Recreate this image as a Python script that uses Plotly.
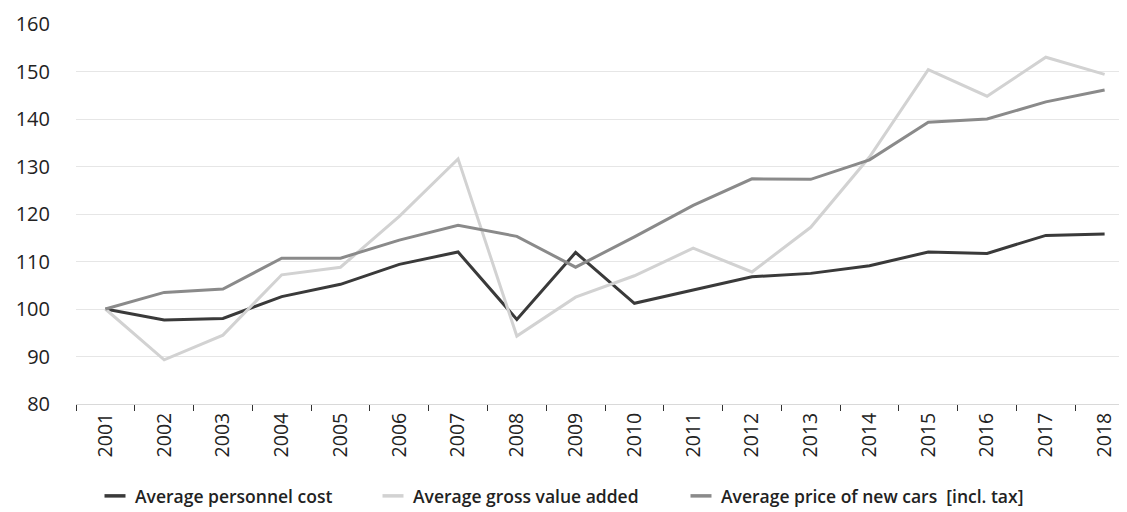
import plotly.graph_objects as go

years = [str(y) for y in range(2001, 2019)]
personnel_cost = [100, 97.7, 98.0, 102.6, 105.2, 109.4, 112.0, 97.8, 111.9, 101.2,
                  104.0, 106.8, 107.5, 109.1, 112.0, 111.7, 115.5, 115.8]
gross_value_added = [100, 89.3, 94.5, 107.2, 108.8, 119.5, 131.6, 94.3, 102.5, 107.0,
                     112.8, 107.8, 117.2, 132.0, 150.4, 144.8, 153.0, 149.4]
car_price = [100, 103.5, 104.2, 110.7, 110.7, 114.5, 117.6, 115.3, 108.8, 115.2,
             121.8, 127.4, 127.3, 131.4, 139.3, 140.0, 143.6, 146.1]

series = [
    ("Average personnel cost", personnel_cost, "#3a3a3a", "legend"),
    ("Average gross value added", gross_value_added, "#d2d2d2", "legend2"),
    ("Average price of new cars  [incl. tax]", car_price, "#8a8a8a", "legend3"),
]
legend_text_x = [129, 407, 715]  # px where each legend label starts

fig = go.Figure()
for name, vals, color, lg in series:
    fig.add_trace(go.Scatter(x=years, y=vals, name=name, mode="lines",
                             line=dict(color=color, width=3), showlegend=False))
    # legend-only entry with a short dash symbol
    fig.add_trace(go.Scatter(x=[None], y=[None], name=name, mode="markers",
                             marker=dict(symbol="line-ew", size=15,
                                         line=dict(color=color, width=3.5)),
                             legend=lg, showlegend=True))

legend_font = dict(family="Open Sans, sans-serif", size=17.5, weight=600, color="#222222")
W, H = 1127, 512
layout_legends = {}
for (name, vals, color, lg), tx in zip(series, legend_text_x):
    layout_legends[lg] = dict(orientation="h", xref="container", yref="container",
                              x=(tx - 42) / W, y=1 - 470 / H,
                              xanchor="left", yanchor="top",
                              font=legend_font, itemwidth=30,
                              bgcolor="rgba(0,0,0,0)")

fig.update_layout(
    width=W, height=H,
    margin=dict(l=68, r=1, t=16, b=116),
    paper_bgcolor="white", plot_bgcolor="white",
    font=dict(family="Open Sans, Noto Sans, sans-serif", size=20, color="#222222"),
    showlegend=True,
    **layout_legends,
)
fig.update_xaxes(type="category", range=[-0.5, 17.5], tickangle=-90, showgrid=False,
                 showline=True, linecolor="#d9d9d9", linewidth=1,
                 ticks="outside", tickson="boundaries", ticklen=6,
                 tickcolor="#333333", tickfont=dict(size=19.5))
fig.update_yaxes(range=[80, 160], dtick=10, showgrid=True, gridcolor="#e6e6e6",
                 gridwidth=1, zeroline=False, showline=False,
                 ticklabelstandoff=25, tickfont=dict(size=20))

fig.write_html("out.html")
